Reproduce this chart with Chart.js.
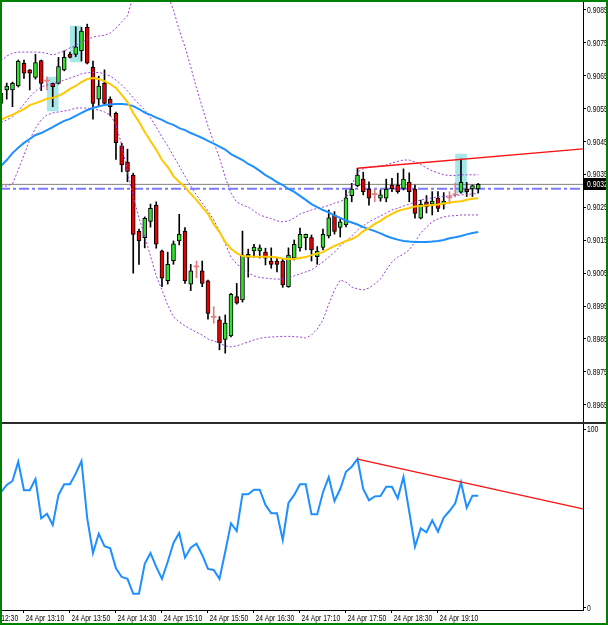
<!DOCTYPE html>
<html>
<head>
<meta charset="utf-8">
<script src="https://cdn.jsdelivr.net/npm/chart.js@4.4.1/dist/chart.umd.min.js"></script>
<style>
  html, body { margin: 0; padding: 0; background: #fff; }
  #frame { position: relative; width: 608px; height: 625px; overflow: hidden; background: #fff; }
  #main { position: absolute; left: 0; top: 2px; }
  #osc { position: absolute; left: 0; top: 424px; }
  #sep { position: absolute; left: 0; top: 422px; width: 608px; height: 2px; background: #2b2b2b; }
  .edge { position: absolute; background: #008000; }
</style>
</head>
<body>
<div id="frame">
  <canvas id="main" width="608" height="420"></canvas>
  <div id="sep"></div>
  <canvas id="osc" width="608" height="199"></canvas>
  <div class="edge" style="left:0;top:0;width:608px;height:2px"></div>
  <div class="edge" style="left:0;top:623px;width:608px;height:2px"></div>
  <div class="edge" style="left:0;top:0;width:2px;height:625px"></div>
  <div class="edge" style="left:606px;top:0;width:2px;height:625px"></div>
</div>
<script>
// 5 minute bars, 24 Apr 12:50 .. 19:45 (bar index 0..83)
const tickBars = [-4, 4, 12, 20, 28, 36, 44, 52, 60, 68, 76];
const tickLabels = ['24 Apr 12:30', '24 Apr 13:10', '24 Apr 13:50', '24 Apr 14:30', '24 Apr 15:10',
  '24 Apr 15:50', '24 Apr 16:30', '24 Apr 17:10', '24 Apr 17:50', '24 Apr 18:30', '24 Apr 19:10'];
const priceTicks = [0.8965, 0.8975, 0.8985, 0.8995, 0.9005, 0.9015, 0.9025, 0.9035, 0.9045, 0.9055, 0.9065, 0.9075, 0.9085];
const rsiTicks = [0, 100];

const open = [0.90566, 0.90607, 0.90607, 0.90619, 0.90688, 0.90668, 0.90645, 0.90696, 0.90634, 0.90627,
  0.90627, 0.90668, 0.90716, 0.90715, 0.90726, 0.90797, 0.90676, 0.90579, 0.90627, 0.90579,
  0.90536, 0.90437, 0.90388, 0.90348, 0.90178, 0.90158, 0.90207, 0.90257, 0.90118, 0.90027,
  0.90088, 0.90148, 0.90178, 0.90017, 0.90069, 0.90057, 0.90027, 0.89916, 0.89908, 0.89849,
  0.89859, 0.89979, 0.89969, 0.90098, 0.90118, 0.90118, 0.90114, 0.90087, 0.90087, 0.90087,
  0.90009, 0.90096, 0.90127, 0.90158, 0.90158, 0.90100, 0.90128, 0.90163, 0.90227, 0.90189,
  0.90197, 0.90286, 0.90316, 0.90336, 0.90306, 0.90289, 0.90278, 0.90278, 0.90318, 0.90318,
  0.90308, 0.90326, 0.90306, 0.90217, 0.90267, 0.90260, 0.90278, 0.90260, 0.90279, 0.90288,
  0.90296, 0.90306, 0.90306, 0.90306];
const high = [0.90605, 0.90628, 0.90631, 0.90698, 0.90698, 0.90669, 0.90715, 0.90698, 0.90647, 0.90628,
  0.90706, 0.90726, 0.90722, 0.90799, 0.90797, 0.90807, 0.90695, 0.90649, 0.90668, 0.90586,
  0.90540, 0.90445, 0.90427, 0.90354, 0.90184, 0.90221, 0.90260, 0.90267, 0.90120, 0.90114,
  0.90148, 0.90229, 0.90189, 0.90077, 0.90087, 0.90087, 0.90029, 0.89948, 0.89918, 0.89923,
  0.89989, 0.90019, 0.90178, 0.90123, 0.90138, 0.90136, 0.90126, 0.90127, 0.90098, 0.90095,
  0.90127, 0.90151, 0.90187, 0.90169, 0.90166, 0.90131, 0.90184, 0.90242, 0.90237, 0.90215,
  0.90303, 0.90323, 0.90369, 0.90357, 0.90328, 0.90306, 0.90303, 0.90336, 0.90338, 0.90354,
  0.90367, 0.90355, 0.90318, 0.90272, 0.90286, 0.90298, 0.90298, 0.90295, 0.90298, 0.90324,
  0.90397, 0.90326, 0.90318, 0.90323];
const low = [0.90555, 0.90579, 0.90556, 0.90616, 0.90642, 0.90607, 0.90640, 0.90605, 0.90607, 0.90556,
  0.90625, 0.90665, 0.90704, 0.90708, 0.90695, 0.90686, 0.90518, 0.90556, 0.90561, 0.90528,
  0.90396, 0.90358, 0.90328, 0.90050, 0.90077, 0.90127, 0.90190, 0.90126, 0.90009, 0.90017,
  0.90077, 0.90136, 0.90019, 0.89997, 0.90036, 0.90009, 0.89910, 0.89898, 0.89817, 0.89807,
  0.89856, 0.89956, 0.89962, 0.90038, 0.90098, 0.90096, 0.90075, 0.90065, 0.90054, 0.90007,
  0.90007, 0.90090, 0.90117, 0.90121, 0.90087, 0.90077, 0.90121, 0.90157, 0.90169, 0.90160,
  0.90191, 0.90267, 0.90313, 0.90288, 0.90257, 0.90267, 0.90269, 0.90267, 0.90298, 0.90293,
  0.90303, 0.90267, 0.90217, 0.90215, 0.90233, 0.90227, 0.90237, 0.90245, 0.90262, 0.90282,
  0.90293, 0.90283, 0.90283, 0.90294];
const close = [0.90597, 0.90619, 0.90627, 0.90695, 0.90658, 0.90658, 0.90690, 0.90627, 0.90634, 0.90617,
  0.90678, 0.90706, 0.90706, 0.90738, 0.90786, 0.90688, 0.90566, 0.90619, 0.90566, 0.90556,
  0.90447, 0.90379, 0.90359, 0.90168, 0.90148, 0.90217, 0.90247, 0.90138, 0.90035, 0.90077,
  0.90139, 0.90169, 0.90027, 0.90057, 0.90069, 0.90019, 0.89928, 0.89916, 0.89839, 0.89898,
  0.89986, 0.89959, 0.90105, 0.90107, 0.90129, 0.90127, 0.90096, 0.90077, 0.90077, 0.90014,
  0.90105, 0.90138, 0.90168, 0.90168, 0.90121, 0.90117, 0.90168, 0.90218, 0.90177, 0.90206,
  0.90279, 0.90306, 0.90348, 0.90298, 0.90278, 0.90289, 0.90288, 0.90306, 0.90306, 0.90298,
  0.90336, 0.90298, 0.90232, 0.90260, 0.90252, 0.90269, 0.90247, 0.90269, 0.90279, 0.90288,
  0.90326, 0.90298, 0.90316, 0.90320];

const maFast = [0.90516, 0.90525, 0.90531, 0.90540, 0.90549, 0.90561, 0.90567, 0.90573, 0.90580, 0.90583,
  0.90589, 0.90598, 0.90610, 0.90619, 0.90631, 0.90640, 0.90643, 0.90640, 0.90634, 0.90625,
  0.90613, 0.90592, 0.90570, 0.90537, 0.90510, 0.90479, 0.90452, 0.90425, 0.90394, 0.90373,
  0.90345, 0.90327, 0.90312, 0.90291, 0.90273, 0.90251, 0.90230, 0.90200, 0.90175, 0.90145,
  0.90124, 0.90111, 0.90102, 0.90101, 0.90100, 0.90100, 0.90100, 0.90100, 0.90098, 0.90095,
  0.90093, 0.90093, 0.90096, 0.90099, 0.90105, 0.90110, 0.90114, 0.90124, 0.90133, 0.90140,
  0.90148, 0.90154, 0.90163, 0.90178, 0.90187, 0.90200, 0.90209, 0.90221, 0.90230, 0.90239,
  0.90244, 0.90248, 0.90253, 0.90254, 0.90256, 0.90257, 0.90259, 0.90262, 0.90265, 0.90267,
  0.90269, 0.90273, 0.90276, 0.90278];
const maSlow = [0.90376, 0.90394, 0.90415, 0.90431, 0.90446, 0.90458, 0.90470, 0.90476, 0.90485, 0.90494,
  0.90504, 0.90513, 0.90519, 0.90528, 0.90537, 0.90546, 0.90552, 0.90557, 0.90561, 0.90563,
  0.90564, 0.90564, 0.90563, 0.90558, 0.90549, 0.90538, 0.90531, 0.90523, 0.90516, 0.90507,
  0.90501, 0.90491, 0.90485, 0.90476, 0.90469, 0.90461, 0.90452, 0.90444, 0.90435, 0.90426,
  0.90412, 0.90403, 0.90394, 0.90382, 0.90373, 0.90361, 0.90348, 0.90338, 0.90327, 0.90318,
  0.90306, 0.90297, 0.90285, 0.90273, 0.90260, 0.90251, 0.90242, 0.90235, 0.90225, 0.90218,
  0.90210, 0.90204, 0.90198, 0.90190, 0.90184, 0.90178, 0.90171, 0.90163, 0.90157, 0.90152,
  0.90148, 0.90146, 0.90145, 0.90145, 0.90145, 0.90146, 0.90148, 0.90151, 0.90156, 0.90159,
  0.90163, 0.90168, 0.90172, 0.90175];
const bbUpper = [0.90695, 0.90710, 0.90719, 0.90722, 0.90722, 0.90722, 0.90722, 0.90721, 0.90718, 0.90713,
  0.90719, 0.90725, 0.90735, 0.90742, 0.90753, 0.90759, 0.90768, 0.90771, 0.90773, 0.90780,
  0.90795, 0.90814, 0.90832, 0.90893, 0.90923, 0.90935, 0.90929, 0.90929, 0.90917, 0.90896,
  0.90850, 0.90789, 0.90738, 0.90677, 0.90613, 0.90555, 0.90497, 0.90449, 0.90400, 0.90342,
  0.90294, 0.90266, 0.90257, 0.90251, 0.90239, 0.90227, 0.90221, 0.90216, 0.90209, 0.90206,
  0.90209, 0.90218, 0.90230, 0.90236, 0.90242, 0.90247, 0.90251, 0.90256, 0.90263, 0.90268,
  0.90276, 0.90315, 0.90358, 0.90367, 0.90373, 0.90374, 0.90376, 0.90379, 0.90385, 0.90390,
  0.90394, 0.90394, 0.90388, 0.90380, 0.90370, 0.90361, 0.90355, 0.90349, 0.90347, 0.90347,
  0.90349, 0.90349, 0.90349, 0.90349];
const bbMiddle = [0.90507, 0.90516, 0.90525, 0.90543, 0.90564, 0.90586, 0.90604, 0.90616, 0.90622, 0.90625,
  0.90631, 0.90637, 0.90643, 0.90649, 0.90656, 0.90659, 0.90660, 0.90660, 0.90656, 0.90649,
  0.90637, 0.90622, 0.90604, 0.90583, 0.90564, 0.90546, 0.90522, 0.90494, 0.90464, 0.90437,
  0.90406, 0.90376, 0.90345, 0.90315, 0.90288, 0.90263, 0.90239, 0.90212, 0.90178, 0.90139,
  0.90099, 0.90078, 0.90063, 0.90051, 0.90042, 0.90037, 0.90035, 0.90033, 0.90032, 0.90032,
  0.90035, 0.90042, 0.90048, 0.90054, 0.90060, 0.90072, 0.90084, 0.90099, 0.90114, 0.90133,
  0.90148, 0.90163, 0.90181, 0.90194, 0.90206, 0.90215, 0.90224, 0.90233, 0.90242, 0.90248,
  0.90254, 0.90260, 0.90266, 0.90273, 0.90276, 0.90279, 0.90282, 0.90283, 0.90285, 0.90286,
  0.90288, 0.90289, 0.90291, 0.90292];
const bbLower = [0.90315, 0.90315, 0.90321, 0.90364, 0.90409, 0.90455, 0.90491, 0.90516, 0.90531, 0.90537,
  0.90540, 0.90543, 0.90546, 0.90552, 0.90552, 0.90552, 0.90549, 0.90546, 0.90540, 0.90531,
  0.90501, 0.90440, 0.90358, 0.90282, 0.90218, 0.90163, 0.90102, 0.90042, 0.89999, 0.89953,
  0.89917, 0.89902, 0.89890, 0.89880, 0.89871, 0.89862, 0.89850, 0.89844, 0.89838, 0.89829,
  0.89826, 0.89829, 0.89835, 0.89841, 0.89847, 0.89852, 0.89855, 0.89856, 0.89857, 0.89858,
  0.89858, 0.89857, 0.89856, 0.89853, 0.89862, 0.89880, 0.89908, 0.89956, 0.89999, 0.90029,
  0.90023, 0.90008, 0.90002, 0.89999, 0.90005, 0.90017, 0.90032, 0.90060, 0.90084, 0.90099,
  0.90108, 0.90121, 0.90145, 0.90172, 0.90190, 0.90206, 0.90215, 0.90221, 0.90224, 0.90225,
  0.90227, 0.90227, 0.90227, 0.90227];

const rsi = [64.6, 68.7, 70.9, 81.7, 65.7, 65.7, 72.0, 50.0, 52.6, 46.3,
  63.1, 69.1, 69.1, 75.0, 82.1, 50.0, 30.6, 41.4, 34.4, 33.2,
  22.0, 17.2, 16.1, 7.8, 7.8, 24.6, 30.6, 22.8, 16.1, 25.7,
  36.2, 41.8, 28.0, 33.6, 35.8, 29.5, 21.7, 21.1, 16.1, 31.3,
  47.2, 42.9, 63.5, 63.5, 66.0, 66.0, 57.5, 52.8, 52.8, 37.9,
  58.6, 63.1, 69.1, 69.1, 52.3, 52.3, 64.6, 73.1, 59.7, 66.4,
  76.1, 78.9, 83.2, 66.4, 60.1, 62.3, 62.5, 67.7, 67.7, 61.2,
  73.1, 53.7, 34.1, 44.4, 42.2, 48.9, 42.5, 50.4, 54.1, 58.4,
  70.2, 56.0, 62.7, 62.7];

// highlighted bars (cyan marks)
const markBars = [9, 13, 80];
const markLow = [0.90543, 0.90692, 0.90294];
const markHigh = [0.90646, 0.90801, 0.90412];

// trend lines: [bar, value] pairs
const priceTrend = [[62, 0.90369], [101.2, 0.90428]];
const rsiTrend = [[62, 83.2], [101.2, 55.3]];

const bidPrice = 0.90320;
const levelPrice = 0.90307;

// visible bar window
const xMin = -0.17;
const xMax = 101.22;

const labelFont = '9px "Liberation Sans", Arial, sans-serif';
const squeeze = 0.75;   // terminal font is narrow
const bars = close.map((_, i) => i);
const series = arr => bars.map(i => ({ x: i, y: arr[i] }));
const isDoji = i => close[i] === open[i];

function fitRight(scale) {
  scale.width = 25;
  scale.paddingTop = 0;
  scale.paddingBottom = 0;
}

function narrowText(ctx, text, x, y) {
  ctx.save();
  ctx.translate(x, y);
  ctx.scale(squeeze, 1);
  ctx.fillText(text, 0, 0);
  ctx.restore();
}

// tick labels drawn narrow, at the positions of the scales' own ticks
const narrowLabels = {
  id: 'narrowLabels',
  afterDraw(chart) {
    const ctx = chart.ctx;
    ctx.save();
    ctx.fillStyle = '#000';
    ctx.font = labelFont;
    const ys = chart.scales.y;
    ctx.textBaseline = 'middle';
    ys.ticks.forEach(t => narrowText(ctx, t.label, ys.left + 4, Math.round(ys.getPixelForValue(t.value)) + 0.5));
    const xs = chart.scales.x;
    if (xs.options.display) {
      ctx.textBaseline = 'top';
      xs.ticks.forEach(t => narrowText(ctx, t.label, xs.getPixelForValue(t.value) + 1.5, xs.top + 4));
    }
    ctx.restore();
  }
};

const bidTag = {
  id: 'bidTag',
  afterDraw(chart) {
    const { ctx, chartArea } = chart;
    const y = Math.round(chart.scales.y.getPixelForValue(bidPrice));
    ctx.save();
    ctx.fillStyle = '#000';
    ctx.fillRect(chartArea.right, y - 6, 24, 12);
    ctx.fillStyle = '#fff';
    ctx.font = labelFont;
    ctx.textBaseline = 'middle';
    narrowText(ctx, bidPrice.toFixed(4), chartArea.right + 4, y + 0.5);
    ctx.restore();
  }
};

const flat = (v, color, width, dash, order) => ({
  type: 'line',
  data: [{ x: xMin, y: v }, { x: xMax, y: v }],
  borderColor: color, borderWidth: width, borderDash: dash,
  pointRadius: 0, order
});

const bandLine = arr => ({
  type: 'line', data: series(arr), borderColor: '#9a3fd6', borderWidth: 1,
  borderDash: [2, 2], pointRadius: 0, tension: 0, order: 5
});

const hiddenLabels = { display: false };

new Chart(document.getElementById('main'), {
  type: 'bar',
  data: {
    datasets: [
      {
        data: markBars.map((b, k) => ({ x: b, y: [markLow[k], markHigh[k]] })),
        backgroundColor: '#a6e8ea', barThickness: 11, grouped: false, order: 20
      },
      flat(bidPrice, '#808080', 1, [], 16),
      flat(levelPrice, '#7b7bff', 2, [10, 3, 3, 3], 15),
      {
        data: bars.filter(i => !isDoji(i)).map(i => ({ x: i, y: [low[i], high[i]] })),
        backgroundColor: '#000', barThickness: 1, grouped: false, order: 12
      },
      {
        data: bars.filter(isDoji).map(i => ({ x: i, y: [low[i], high[i]] })),
        backgroundColor: '#e27c7c', barThickness: 1, grouped: false, order: 12
      },
      {
        data: bars.filter(i => close[i] > open[i]).map(i => ({ x: i, y: [open[i], close[i]] })),
        backgroundColor: '#2fe02f', borderColor: '#000', borderWidth: 1, borderSkipped: false,
        barThickness: 4, grouped: false, order: 11
      },
      {
        data: bars.filter(i => close[i] < open[i]).map(i => ({ x: i, y: [close[i], open[i]] })),
        backgroundColor: '#e30000', borderColor: '#000', borderWidth: 1, borderSkipped: false,
        barThickness: 4, grouped: false, order: 11
      },
      {
        data: bars.filter(isDoji).map(i => ({ x: i, y: [open[i], close[i]] })),
        backgroundColor: '#e27c7c', barThickness: 5, minBarLength: 1, grouped: false, order: 11
      },
      bandLine(bbUpper),
      bandLine(bbMiddle),
      bandLine(bbLower),
      { type: 'line', data: series(maSlow), borderColor: '#1e8fff', borderWidth: 2, pointRadius: 0, order: 4 },
      { type: 'line', data: series(maFast), borderColor: '#ffc800', borderWidth: 2, pointRadius: 0, order: 3 },
      {
        type: 'line', data: priceTrend.map(p => ({ x: p[0], y: p[1] })),
        borderColor: '#ff1010', borderWidth: 1.3, pointRadius: 0, order: 1
      }
    ]
  },
  options: {
    responsive: false,
    animation: false,
    events: [],
    devicePixelRatio: 1,
    layout: { padding: 0 },
    plugins: { legend: { display: false }, tooltip: { enabled: false } },
    scales: {
      x: { type: 'linear', min: xMin, max: xMax, offset: false, display: false },
      y: {
        position: 'right', min: 0.895977, max: 0.908743, bounds: 'data',
        afterBuildTicks: s => { s.ticks = priceTicks.map(v => ({ value: v })); },
        afterFit: fitRight,
        ticks: { ...hiddenLabels, callback: v => v.toFixed(4) },
        grid: { drawOnChartArea: false, drawTicks: true, tickLength: 3, color: '#000' },
        border: { display: true, color: '#000', width: 1 }
      }
    }
  },
  plugins: [narrowLabels, bidTag]
});

new Chart(document.getElementById('osc'), {
  type: 'line',
  data: {
    datasets: [
      { data: series(rsi), borderColor: '#1e8fff', borderWidth: 2, pointRadius: 0, tension: 0, order: 2 },
      {
        data: rsiTrend.map(p => ({ x: p[0], y: p[1] })),
        borderColor: '#ff1010', borderWidth: 1.3, pointRadius: 0, order: 1
      }
    ]
  },
  options: {
    responsive: false,
    animation: false,
    events: [],
    devicePixelRatio: 1,
    layout: { padding: 0 },
    plugins: { legend: { display: false }, tooltip: { enabled: false } },
    scales: {
      x: {
        type: 'linear', min: xMin, max: xMax, offset: false, bounds: 'data',
        afterBuildTicks: s => { s.ticks = tickBars.map(v => ({ value: v })); },
        afterFit: s => { s.height = 13; s.paddingLeft = 0; s.paddingRight = 0; },
        ticks: { ...hiddenLabels, autoSkip: false, maxRotation: 0, callback: (v, i) => tickLabels[i] },
        grid: { drawOnChartArea: false, drawTicks: true, tickLength: 3, color: '#000' },
        border: { display: true, color: '#000', width: 1 }
      },
      y: {
        position: 'right', min: -1.3, max: 102.8, bounds: 'data',
        afterBuildTicks: s => { s.ticks = rsiTicks.map(v => ({ value: v })); },
        afterFit: fitRight,
        ticks: { ...hiddenLabels, callback: v => String(v) },
        grid: { drawOnChartArea: false, drawTicks: true, tickLength: 3, color: '#000' },
        border: { display: true, color: '#000', width: 1 }
      }
    }
  },
  plugins: [narrowLabels]
});
</script>
</body>
</html>
